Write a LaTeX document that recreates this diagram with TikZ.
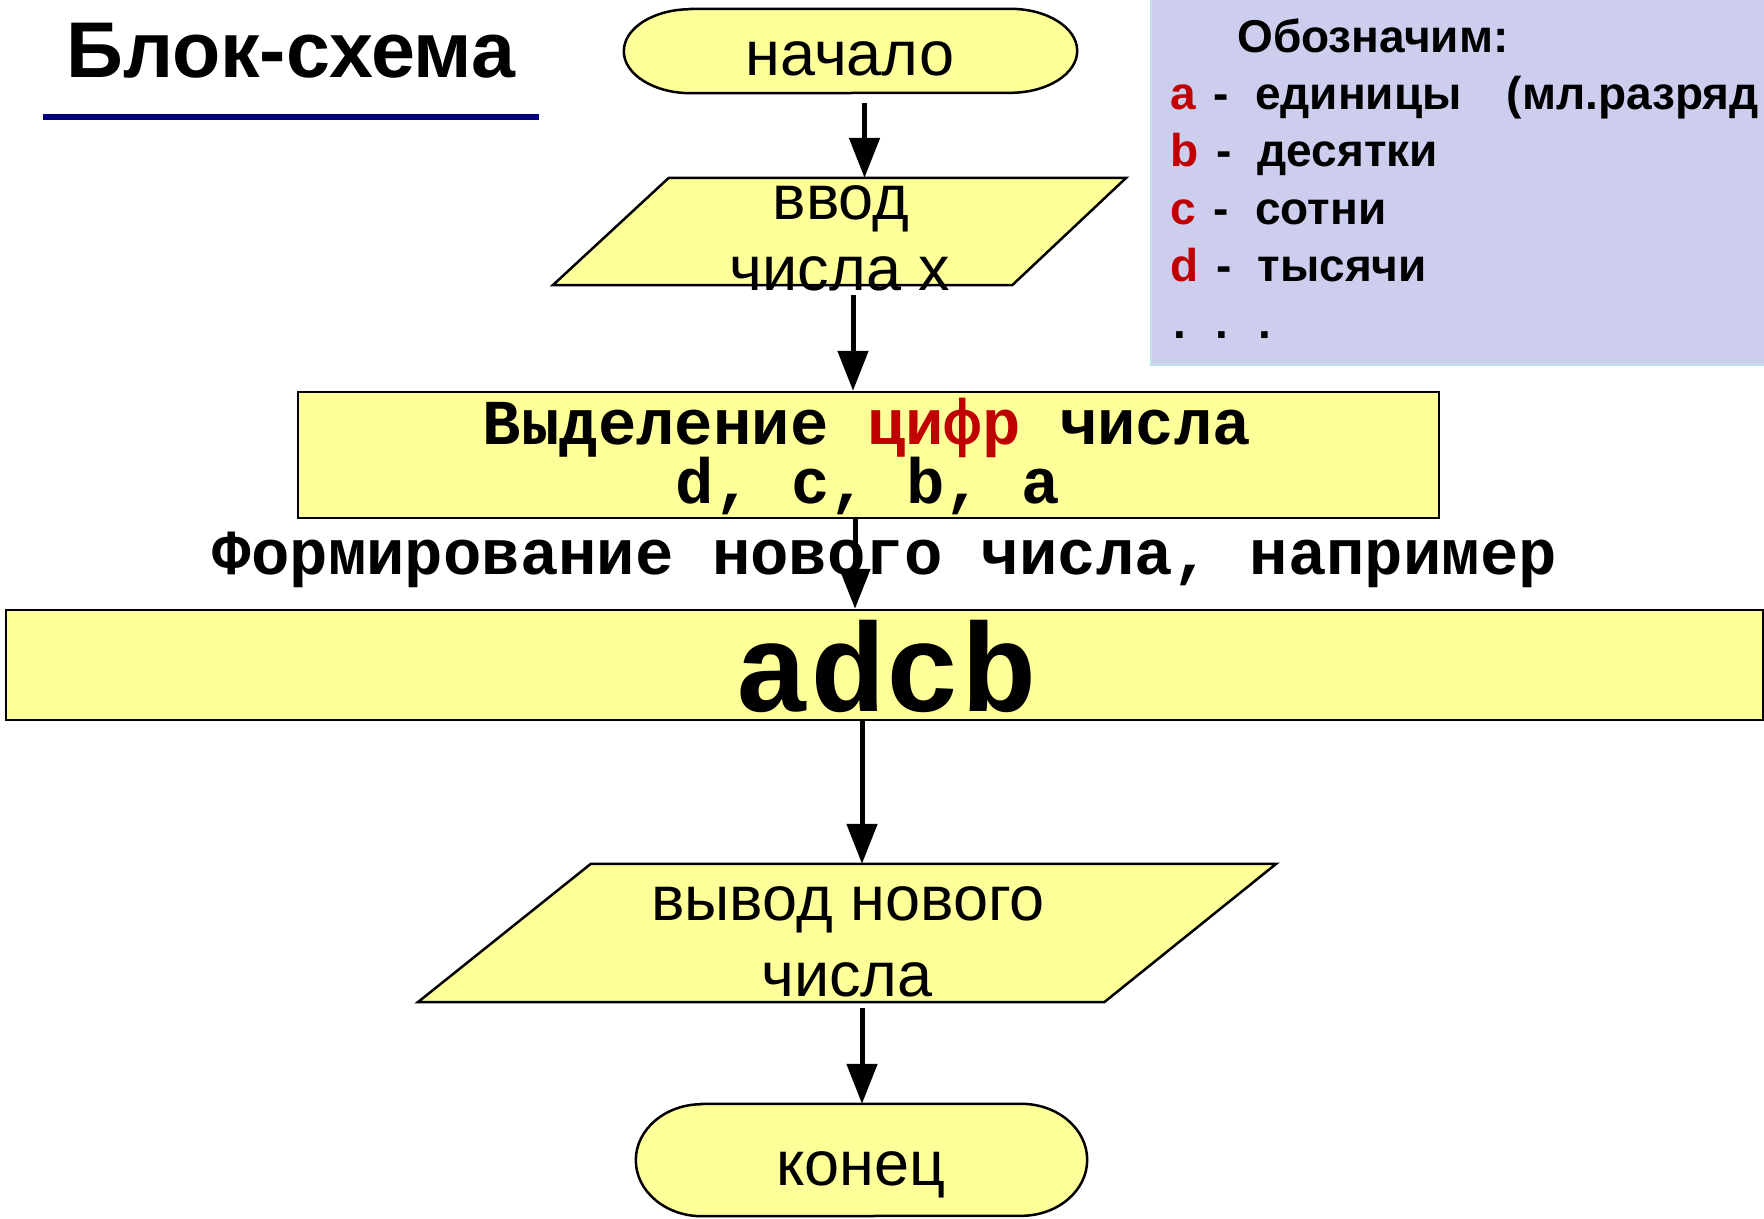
\documentclass[tikz,border=0pt]{standalone}
\usepackage{fontspec}
\setmainfont{Liberation Sans}
\newfontfamily\monofont{Liberation Mono}
\usetikzlibrary{arrows.meta}
\definecolor{fillyel}{RGB}{255,255,153}
\definecolor{legbg}{RGB}{205,206,238}
\definecolor{legedge}{RGB}{190,228,232}
\definecolor{cred}{RGB}{192,0,0}
\definecolor{navyline}{RGB}{0,0,128}
\begin{document}
\begin{tikzpicture}[x=1pt,y=-1pt,
  shp/.style={draw=black, line width=2.5pt, fill=fillyel, inner sep=0pt},
  box/.style={inner sep=0pt},
  arr/.style={line width=5pt, -{Triangle[length=40pt,width=30pt]}},
  txt/.style={inner sep=0pt, anchor=base, font=\fontsize{63}{63}\selectfont},
  mtxt/.style={inner sep=0pt, anchor=base, font=\monofont\bfseries\fontsize{64}{64}\selectfont},
  leg/.style={inner sep=0pt, anchor=base west, font=\bfseries\fontsize{46}{46}\selectfont}]
\useasboundingbox (0,0) rectangle (1764,1218);
\fill[white] (0,0) rectangle (1764,1218);

% title
\node[inner sep=0pt, anchor=base west, font=\bfseries\fontsize{79}{79}\selectfont] (title) at (66,77) {Блок-схема};
\fill[navyline] (43,114) rectangle (539,120);

% legend
\fill[legbg] (1150,0) rectangle (1764,366);
\draw[legedge, line width=2pt] (1151,0) -- (1151,365) -- (1764,365);
\node[leg] (legT) at (1237,52) {Обозначим:};
\node[leg] (legA) at (1170,109) {\textcolor{cred}{a}\hspace{18pt}-\hspace{26pt}единицы\hspace{45pt}(мл.разряд};
\node[leg] (legB) at (1170,166) {\textcolor{cred}{b}\hspace{18pt}-\hspace{26pt}десятки};
\node[leg] (legC) at (1170,224) {\textcolor{cred}{c}\hspace{18pt}-\hspace{26pt}сотни};
\node[leg] (legD) at (1170,281) {\textcolor{cred}{d}\hspace{18pt}-\hspace{26pt}тысячи};
\node[leg] (legE) at (1173,338) {.\hspace{30pt}.\hspace{30pt}.};

% start
\node[box, minimum width=453pt, minimum height=84pt] (start) at (850.5,51) {};
\filldraw[shp] ([xshift=67pt]start.north west) -- ([xshift=-67pt]start.north east)
  arc[start angle=-90, end angle=90, x radius=67, y radius=42]
  -- ([xshift=67pt]start.south west)
  arc[start angle=90, end angle=270, x radius=67, y radius=42] -- cycle;
\node[txt] (startT) at (850,75) {начало};

% input
\node[box, minimum width=573pt, minimum height=107pt] (in1) at (839.5,231.5) {};
\filldraw[shp] ([xshift=116pt]in1.north west) -- (in1.north east) -- ([xshift=-114pt]in1.south east) -- (in1.south west) -- cycle;
\node[txt] (in1a) at (841,219) {ввод};
\node[txt] (in1b) at (840,290) {числа x};

% digits box
\node[shp, minimum width=1141pt, minimum height=126pt] (dig) at (868.5,455) {};
\node[mtxt] (digA) at (867,444) {Выделение \textcolor{cred}{цифр} числа};
\node[mtxt] (digB) at (868,503) {d, c, b, a};

% forming label
\node[mtxt] (form) at (885,574) {Формирование нового числа, например};

% big box
\node[shp, minimum width=1757pt, minimum height=110pt] (big) at (884.5,665) {};
\node[inner sep=0pt, anchor=base, font=\monofont\bfseries\fontsize{126}{126}\selectfont] (bigT) at (886,711) {adcb};

% output
\node[box, minimum width=858pt, minimum height=138pt] (out) at (847,933) {};
\filldraw[shp] ([xshift=173pt]out.north west) -- (out.north east) -- ([xshift=-172pt]out.south east) -- (out.south west) -- cycle;
\node[txt] (outA) at (848,920) {вывод нового};
\node[txt] (outB) at (847,996) {числа};

% end
\node[box, minimum width=451pt, minimum height=112pt] (end) at (861.5,1160) {};
\filldraw[shp] ([xshift=66pt]end.north west) -- ([xshift=-66pt]end.north east)
  arc[start angle=-90, end angle=90, x radius=66, y radius=56]
  -- ([xshift=66pt]end.south west)
  arc[start angle=90, end angle=270, x radius=66, y radius=56] -- cycle;
\node[txt] (endT) at (861,1185) {конец};

% arrows
\draw[arr] ([xshift=14pt,yshift=-10pt]start.south) -- ([xshift=14pt]start.south |- in1.north);
\draw[arr] ([xshift=13.5pt,yshift=-10pt]in1.south) -- ([xshift=13.5pt]in1.south |- dig.north);
\draw[arr] ([xshift=-13.5pt]dig.south) -- ([xshift=-13.5pt]dig.south |- big.north);
\draw[arr] ([xshift=-22.5pt]big.south) -- ([xshift=-22.5pt]big.south |- out.north);
\draw[arr] ([xshift=15pt,yshift=-6pt]out.south) -- ([xshift=15pt]out.south |- end.north);
\end{tikzpicture}
\end{document}
